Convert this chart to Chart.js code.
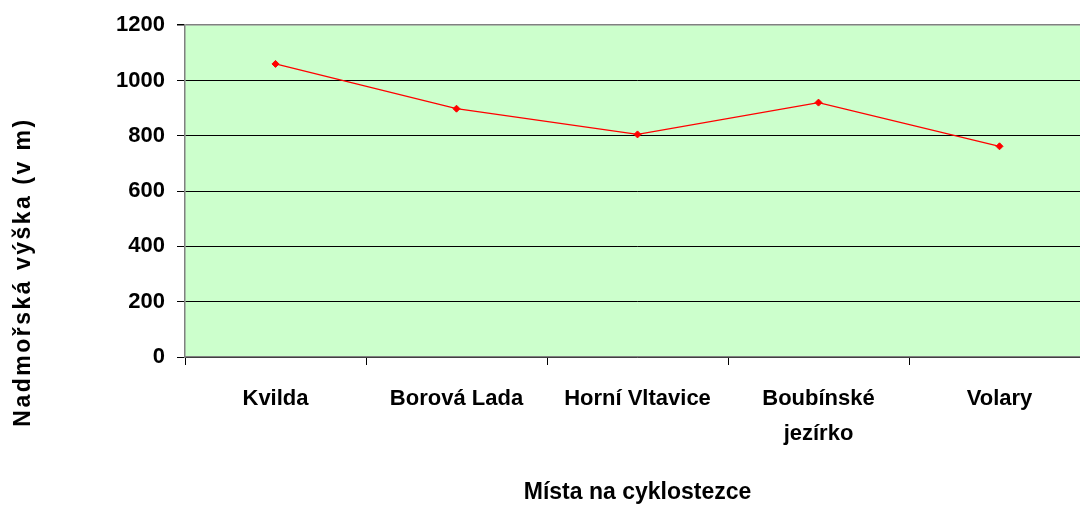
<!DOCTYPE html>
<html>
<head>
<meta charset="utf-8">
<script src="https://cdn.jsdelivr.net/npm/chart.js@4"></script>
<style>
  html, body { margin: 0; padding: 0; background: #fff; overflow: hidden; }
  #wrap { width: 1080px; height: 506px; overflow: hidden; }
</style>
</head>
<body>
<div id="wrap"><canvas id="graf" width="1095" height="506"></canvas></div>
<script>
// --- data
const mista = ["Kvilda", "Borová Lada", "Horní Vltavice", ["Boubínské", "jezírko"], "Volary"];
const vysky = [1060, 898, 805, 920, 762];
const osaYMax = 1200;
const osaYKrok = 200;

const pisma = "'Liberation Sans', Arial, sans-serif";

// --- zelené pozadí grafu
const pozadi = {
    id: "pozadi",
    beforeDraw(chart) {
        const { ctx, chartArea: a } = chart;
        ctx.save();
        ctx.fillStyle = "#CCFFCC";
        ctx.fillRect(a.left, a.top, a.right - a.left, a.bottom - a.top);
        ctx.restore();
    }
};

// --- popisek osy Y (Excel ho centruje na celý graf, ne na osu)
const popisekY = {
    id: "popisekY",
    afterDraw(chart) {
        const ctx = chart.ctx;
        ctx.save();
        ctx.translate(24, 272);
        ctx.rotate(-Math.PI / 2);
        ctx.font = "bold 23px " + pisma;
        ctx.letterSpacing = "2.5px";
        ctx.fillStyle = "#000";
        ctx.textAlign = "center";
        ctx.textBaseline = "middle";
        ctx.fillText("Nadmořská výška (v m)", 0, 0);
        ctx.restore();
    }
};

new Chart(document.getElementById("graf"), {
    type: "line",
    data: {
        labels: mista,
        datasets: [{
            data: vysky,
            borderColor: "#FF0000",
            backgroundColor: "#FF0000",
            borderWidth: 1.2,
            pointStyle: "rectRot",
            pointRadius: 3.5,
            pointBorderWidth: 1,
            tension: 0,
            fill: false
        }]
    },
    options: {
        responsive: false,
        animation: false,
        layout: { padding: { top: 23, left: 0, right: 0, bottom: 0 } },
        plugins: { legend: { display: false }, tooltip: { enabled: false } },
        scales: {
            x: {
                offset: true,
                afterFit: s => { s.height = 149; },
                grid: { offset: true, drawOnChartArea: false, tickLength: 8, tickColor: "#000" },
                border: { color: "#808080", width: 1.5 },
                ticks: {
                    color: "#000",
                    font: { family: pisma, size: 22, weight: "bold", lineHeight: 1.6 },
                    padding: 16,
                    maxRotation: 0
                },
                title: {
                    display: true,
                    text: "Místa na cyklostezce",
                    color: "#000",
                    font: { family: pisma, size: 23, weight: "bold" },
                    padding: { top: 0, bottom: 0 }
                }
            },
            y: {
                min: 0,
                max: osaYMax,
                afterFit: s => { s.width = 185; },
                grid: {
                    color: c => c.tick && c.tick.value === osaYMax ? "#808080" : "#000",
                    lineWidth: c => c.tick && c.tick.value === osaYMax ? 1.5 : 1,
                    tickLength: 8,
                    tickColor: "#000"
                },
                border: { color: "#808080", width: 1.5 },
                ticks: {
                    stepSize: osaYKrok,
                    color: "#000",
                    font: { family: pisma, size: 22, weight: "bold" },
                    padding: 12,
                    callback: v => String(v)
                }
            }
        }
    },
    plugins: [pozadi, popisekY]
});
</script>
</body>
</html>
